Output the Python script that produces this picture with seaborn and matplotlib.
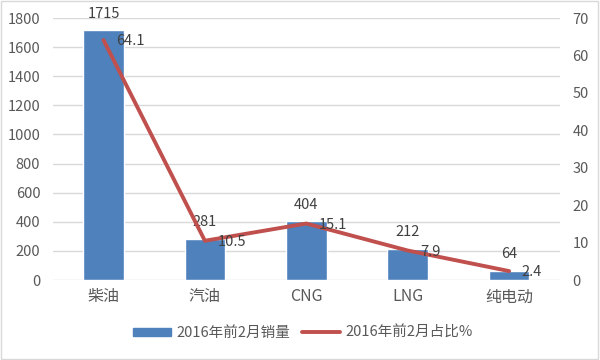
import matplotlib
matplotlib.use("Agg")
import matplotlib.pyplot as plt
import seaborn as sns
import pandas as pd
from matplotlib.patches import Patch
from matplotlib.lines import Line2D

# data
categories = ['柴油', '汽油', 'CNG', 'LNG', '纯电动']
sales = [1715, 281, 404, 212, 64]
share = [64.1, 10.5, 15.1, 7.9, 2.4]
bar_name = '2016年前2月销量'
line_name = '2016年前2月占比%'

df = pd.DataFrame({'cat': categories, 'sales': sales, 'share': share})

sns.set_style('white')
plt.rcParams['font.family'] = ['Noto Sans CJK SC', 'DejaVu Sans']

bar_color = '#4F81BD'
line_color = '#C0504D'
tick_color = '#595959'

fig = plt.figure(figsize=(6, 3.6), dpi=100)
ax = fig.add_axes([0.088, 0.222, 0.845, 0.728])

sns.barplot(data=df, x='cat', y='sales', color=bar_color, width=0.4,
            saturation=1, ax=ax, zorder=2)
ax.set_ylim(0, 1800)
ax.set_yticks(range(0, 1801, 200))
ax.set_xlim(-0.5, 4.5)
ax.grid(axis='y', color='#D9D9D9', linewidth=1, zorder=0)
ax.set_axisbelow(True)
for s in ax.spines.values():
    s.set_visible(False)
ax.set_xlabel('')
ax.set_ylabel('')
ax.tick_params(axis='both', length=0, labelsize=10.5, colors=tick_color, pad=9)
ax.tick_params(axis='x', labelsize=11.5, pad=6)

for i, v in enumerate(sales):
    ax.annotate(str(v), (i, v), xytext=(0, 7), textcoords='offset points',
                ha='center', va='bottom', fontsize=10.5, color='#404040')

ax2 = ax.twinx()
sns.lineplot(x=list(range(len(categories))), y=share, color=line_color,
             linewidth=2.8, ax=ax2)
ax2.set_ylim(0, 70)
ax2.set_yticks(range(0, 71, 10))
ax2.set_xlim(-0.5, 4.5)
for s in ax2.spines.values():
    s.set_visible(False)
ax2.tick_params(axis='y', length=0, labelsize=10.5, colors=tick_color, pad=9)

for i, v in enumerate(share):
    ax2.annotate(str(v), (i, v), xytext=(9, -1), textcoords='offset points',
                 ha='left', va='center', fontsize=10.5, color='#404040')

handles = [Patch(color=bar_color), Line2D([0], [0], color=line_color, linewidth=2.8)]
fig.legend(handles, [bar_name, line_name], loc='center', bbox_to_anchor=(0.505, 0.075),
           ncol=2, frameon=False, fontsize=10.5, handlelength=2.6, handleheight=0.5,
           handletextpad=0.4, columnspacing=0.8, labelcolor=tick_color)

fig.patches.append(plt.Rectangle((0.002, 0.003), 0.995, 0.994, transform=fig.transFigure,
                                 fill=False, edgecolor='#D9D9D9', linewidth=1))

fig.savefig('out.png', dpi=100)
